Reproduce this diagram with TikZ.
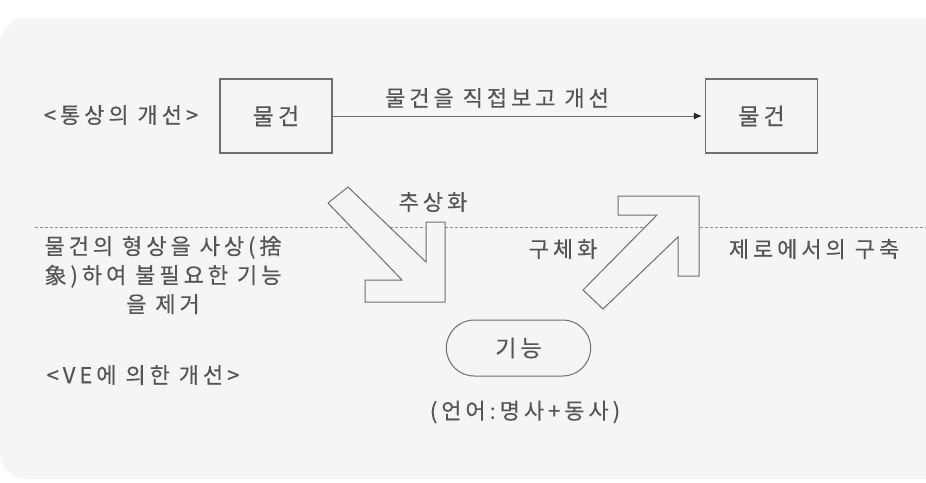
\documentclass[tikz,border=0pt]{standalone}
\usepackage{fontspec}
\setmainfont{Noto Sans CJK KR}[LetterSpace=18,FakeBold=0.3]
\usetikzlibrary{arrows.meta,shapes.misc}
\definecolor{panel}{HTML}{F5F5F5}
\definecolor{ink}{HTML}{555555}
\definecolor{edge}{HTML}{6E6E6E}
\begin{document}
\begin{tikzpicture}[x=1pt,y=-1pt,
  txt/.style={text=ink, font=\fontsize{22}{29}\selectfont, inner sep=0pt},
  thing/.style={draw=edge, line width=1.2pt, minimum width=112pt, minimum height=74pt, text=ink, font=\fontsize{23}{26}\selectfont},
  pill/.style={rounded rectangle, draw=edge, line width=1pt, minimum width=151pt, minimum height=56pt, text=ink, font=\fontsize{23}{26}\selectfont},
  blockarrow/.style={fill=panel, draw=edge, line width=1pt, line join=miter},
  sepline/.style={draw=edge!80, line width=0.8pt, dash pattern=on 3pt off 2pt},
  link/.style={draw=edge, line width=1pt, -{Latex[length=8pt,width=7pt,color=black!85]}, shorten >=3pt}]
\useasboundingbox (0,0) rectangle (926,482);
\fill[white] (0,0) rectangle (926,482);
\fill[panel, rounded corners=26pt] (926,18) -- (0,18) -- (0,479) -- (926,479);
% separator
\coordinate (sepL) at (35,227);
\coordinate (sepR) at (926,227);
\draw[sepline] (sepL) -- (sepR);
% top row
\node[thing] (obj1) at (276,116) {물건};
\node[thing] (obj2) at (761.5,116) {물건};
\draw[link] (obj1.east) -- (obj2.west);
\node[txt] (direct) at (497,98) {물건을 직접보고 개선};
\node[txt] (usual) at (121,115) {<통상의 개선>};
% block arrows
\filldraw[blockarrow] (348,187) -- (328,203) -- (402,280) -- (365,280) -- (365,302) -- (445,302) -- (445,222) -- (426,222) -- (426,262) -- cycle;
\filldraw[blockarrow] (699,196) -- (618,196) -- (618,215) -- (657,215) -- (583,290) -- (603,309) -- (678,237) -- (678,276) -- (699,276) -- cycle;
\node[txt] (abs) at (433,202) {추상화};
\node[txt] (conc) at (563,249) {구체화};
\node[txt] (zero) at (814,249) {제로에서의 구축};
\node[txt, align=center] (desc) at (163,275) {물건의 형상을 사상(捨\\象)하여 불필요한 기능\\을 제거};
% function
\node[pill] (func) at (518.5,348) {기능};
\node[txt] (lang) at (525,412) {(언어:명사+동사)};
\node[txt] (ve) at (143,375) {<VE에 의한 개선>};
\end{tikzpicture}
\end{document}
